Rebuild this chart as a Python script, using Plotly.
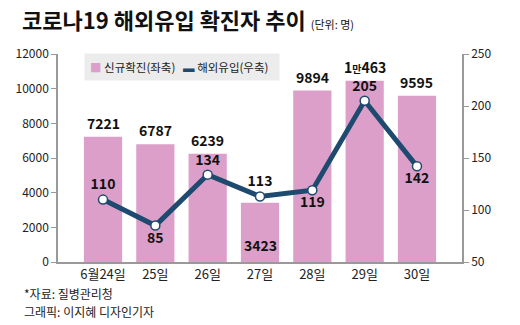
import plotly.graph_objects as go

categories = ["6월24일", "25일", "26일", "27일", "28일", "29일", "30일"]
new_cases = [7221, 6787, 6239, 3423, 9894, 10463, 9595]
new_case_labels = ["7221", "6787", "6239", "3423", "9894", "1<span style='font-size:10px'>만</span>463", "9595"]
imported = [110, 85, 134, 113, 119, 205, 142]
imported_label_pos = ["top center", "bottom center", "top center", "top center",
                      "bottom center", "top center", "bottom center"]
bar_label_inside = [False, False, False, True, False, False, False]
left_ticks = [0, 2000, 4000, 6000, 8000, 10000, 12000]
right_ticks = [50, 100, 150, 200, 250]

FONT = "Noto Sans CJK KR"
PINK = "#dc9fc9"
NAVY = "#1e4a70"

fig = go.Figure()
fig.add_trace(go.Bar(
    x=categories, y=new_cases, name="신규확진(좌축)", showlegend=False,
    marker=dict(color=PINK, line=dict(width=0)), width=0.73, yaxis="y",
))
fig.add_trace(go.Scatter(
    x=categories, y=imported, name="해외유입(우축)", yaxis="y2",
    mode="lines+markers+text", showlegend=False,
    line=dict(color=NAVY, width=5),
    marker=dict(size=9, color="white", line=dict(color=NAVY, width=1.5)),
    text=["<b>%d</b>" % v for v in imported], textposition=imported_label_pos,
    textfont=dict(family=FONT, size=14, color="#111"),
    cliponaxis=False,
))

annotations = []
for c, v, lab, inside in zip(categories, new_cases, new_case_labels, bar_label_inside):
    annotations.append(dict(
        x=c, y=v, xref="x", yref="y", text="<b>" + lab + "</b>",
        showarrow=False, yanchor="top" if inside else "bottom",
        yshift=-30 if inside else 2,
        font=dict(family=FONT, size=14, color="#111"),
    ))


def px_to_paper(px_x, px_y):
    return (px_x - 58) / 404, (262 - px_y) / 208


# manual compact legend
lx, ly = px_to_paper(84, 67)
annotations.append(dict(
    x=lx, y=ly, xref="paper", yref="paper", xanchor="left", yanchor="middle",
    text=("<span style='color:%s'>■</span> 신규확진(좌축)   "
          "<span style='color:%s'>▬</span> 해외유입(우축)  " % (PINK, NAVY)),
    showarrow=False, bgcolor="#ececec", borderpad=5,
    font=dict(family=FONT, size=11.5, color="#222"),
))

fx, fy = px_to_paper(22, 293)
annotations.append(dict(
    x=fx, y=fy, xref="paper", yref="paper", xanchor="left", yanchor="middle",
    text="*자료: 질병관리청", showarrow=False, font=dict(family=FONT, size=12, color="#222"),
))
fx, fy = px_to_paper(22, 311)
annotations.append(dict(
    x=fx, y=fy, xref="paper", yref="paper", xanchor="left", yanchor="middle",
    text="그래픽: 이지혜 디자인기자", showarrow=False, font=dict(family=FONT, size=12, color="#222"),
))

fig.update_layout(
    width=520, height=325,
    margin=dict(l=58, r=58, t=54, b=63),
    paper_bgcolor="white", plot_bgcolor="white",
    font=dict(family=FONT, size=12, color="#222"),
    showlegend=False,
    title=dict(
        text="<b>코로나19 해외유입 확진자 추이</b> <span style='font-size:11px'>(단위: 명)</span>",
        x=22 / 520, xanchor="left", y=1 - 21 / 325, yanchor="middle",
        font=dict(family=FONT, size=22, color="#111"),
    ),
    xaxis=dict(
        type="category", range=[-0.86, 6.86], showline=True, linecolor="#999",
        linewidth=1.5, ticks="", tickfont=dict(family=FONT, size=13, color="#222"),
        showgrid=False,
    ),
    yaxis=dict(
        range=[0, 12000], tickvals=left_ticks, ticktext=[str(t) for t in left_ticks],
        showline=True, linecolor="#999", linewidth=1.5, ticks="outside", ticklen=5,
        tickcolor="#999", showgrid=False, zeroline=False,
        tickfont=dict(family=FONT, size=12, color="#222"),
    ),
    yaxis2=dict(
        range=[50, 250], tickvals=right_ticks, ticktext=[str(t) for t in right_ticks],
        overlaying="y", side="right",
        showline=True, linecolor="#999", linewidth=1.5, ticks="outside", ticklen=5,
        tickcolor="#999", showgrid=False, zeroline=False,
        tickfont=dict(family=FONT, size=12, color="#222"),
    ),
    annotations=annotations,
)

fig.write_html("out.html")
